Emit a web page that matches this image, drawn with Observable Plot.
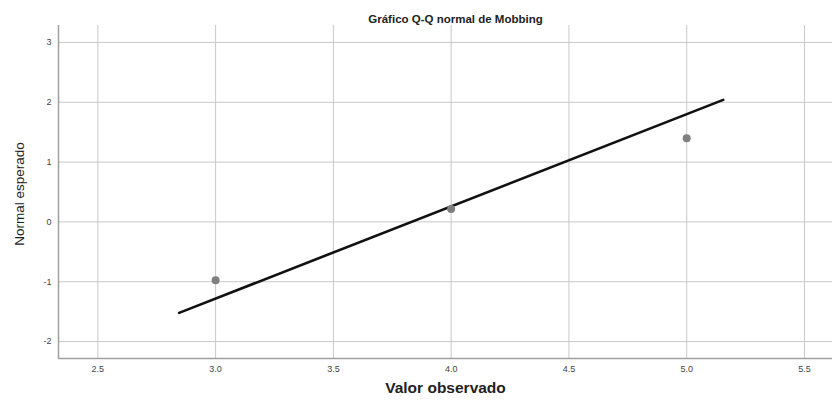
<!DOCTYPE html>
<html>
<head>
<meta charset="utf-8">
<script src="https://cdn.jsdelivr.net/npm/d3@7"></script>
<script src="https://cdn.jsdelivr.net/npm/@observablehq/plot@0.6"></script>
<style>
  html, body { margin: 0; padding: 0; background: #fff; }
  svg { display: block; }
</style>
</head>
<body>
<div id="chart"></div>
<script>
const title = "Gráfico Q-Q normal de Mobbing";
const xLabel = "Valor observado";
const yLabel = "Normal esperado";
const observed = [3, 4, 5];
const expected = [-0.975, 0.215, 1.40];
const lineX = [2.845, 5.155];
const lineY = [-1.52, 2.04];
const xTicks = [2.5, 3.0, 3.5, 4.0, 4.5, 5.0, 5.5];
const yTicks = [-2, -1, 0, 1, 2, 3];

const points = observed.map((v, i) => ({x: v, y: expected[i]}));
const line = lineX.map((v, i) => ({x: v, y: lineY[i]}));
const xDomain = [2.333, 5.619];
const yDomain = [-2.283, 3.283];

const chart = Plot.plot({
  width: 832,
  height: 402,
  marginTop: 25,
  marginBottom: 44,
  marginLeft: 58,
  marginRight: 0,
  style: {fontFamily: "'Liberation Sans', Arial, sans-serif", background: "#fff"},
  x: {domain: xDomain},
  y: {domain: yDomain},
  marks: [
    Plot.gridX(xTicks, {stroke: "#c8c8c8", strokeOpacity: 1}),
    Plot.gridY(yTicks, {stroke: "#c8c8c8", strokeOpacity: 1}),
    Plot.ruleX([xDomain[0]], {stroke: "#a0a0a0", strokeWidth: 1.5}),
    Plot.ruleY([yDomain[0]], {stroke: "#a0a0a0", strokeWidth: 1.5}),
    Plot.axisX(xTicks, {tickSize: 0, tickPadding: 7, tickFormat: d3.format(".1f"), fontSize: 9, fill: "#444",
      label: null}),
    Plot.axisY(yTicks, {tickSize: 0, tickPadding: 7, tickFormat: d => String(d), fontSize: 9, fill: "#444", label: null}),
    Plot.text([xLabel], {frameAnchor: "bottom", dy: 34, fontSize: 15.5, fontWeight: "bold", fill: "#222"}),
    Plot.text([yLabel], {frameAnchor: "left", dx: -39, dy: 2, rotate: -90, textAnchor: "middle", fontSize: 13.5, fill: "#222"}),
    Plot.text([title], {frameAnchor: "top", dx: 10, dy: -11, fontSize: 11.5, fontWeight: "bold", fill: "#222"}),
    Plot.line(line, {x: "x", y: "y", stroke: "#111", strokeWidth: 2.6}),
    Plot.dot(points, {x: "x", y: "y", r: 4, fill: "#7f7f7f", stroke: "none"})
  ]
});
document.getElementById("chart").append(chart);
</script>
</body>
</html>
